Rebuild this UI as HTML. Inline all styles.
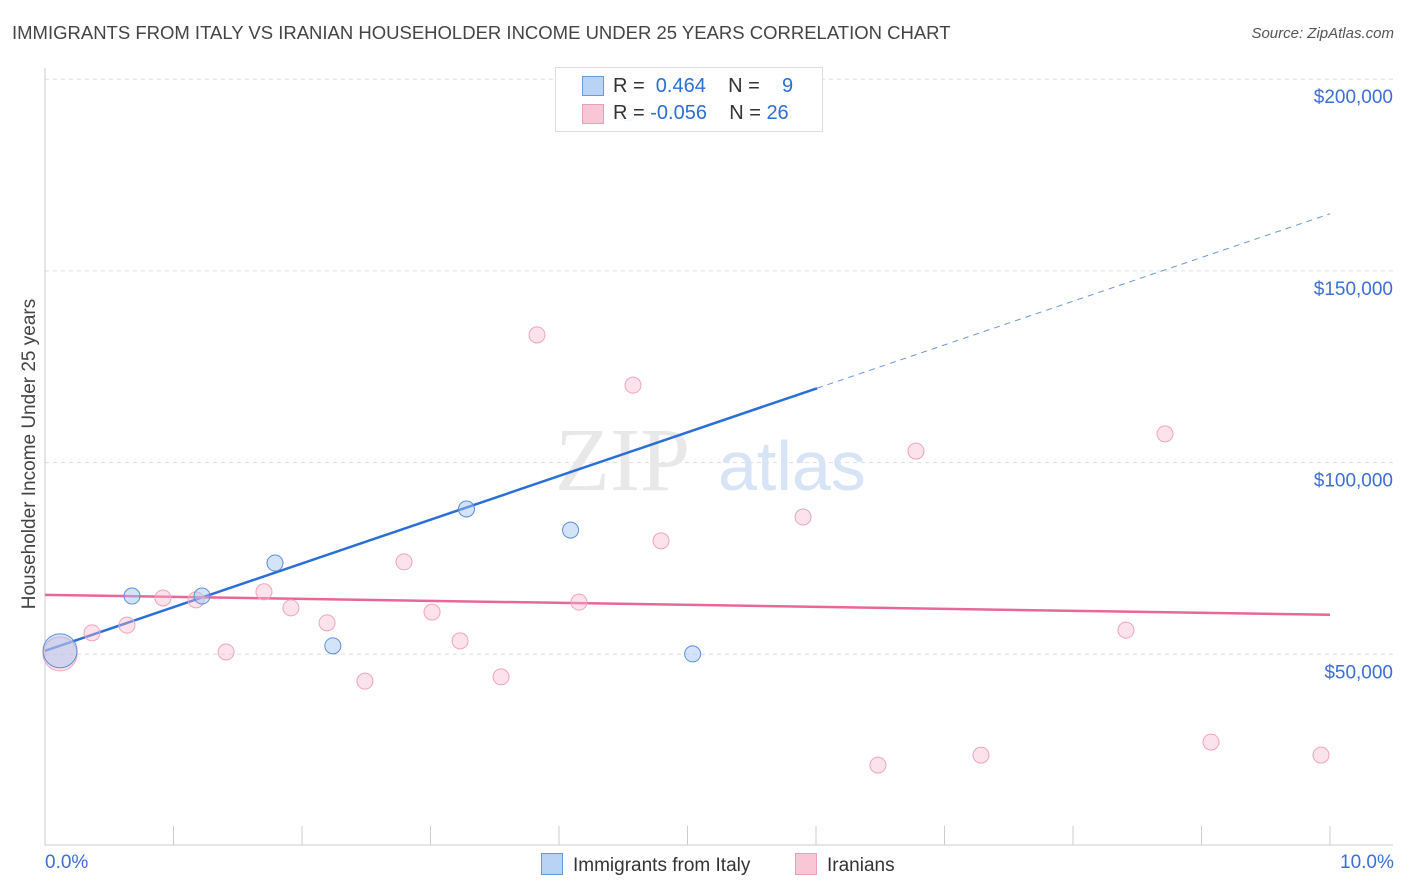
<!DOCTYPE html>
<html><head><meta charset="utf-8">
<style>
body{margin:0;background:#fff;font-family:"Liberation Sans",sans-serif;}
#wrap{position:relative;width:1406px;height:892px;overflow:hidden;}
.t{position:absolute;white-space:nowrap;}
</style></head>
<body>
<div id="wrap">
<div class="t" style="left:12px;top:22px;font-size:18.5px;color:#444;">IMMIGRANTS FROM ITALY VS IRANIAN HOUSEHOLDER INCOME UNDER 25 YEARS CORRELATION CHART</div>
<div class="t" style="right:12px;top:25px;font-size:15px;color:#555;font-style:italic;">Source: ZipAtlas.com</div>
<svg id="svg" width="1406" height="892" style="position:absolute;left:0;top:0"></svg>
</div>
<script>
const italyX=[0.117,0.677,1.222,1.79,2.24,3.28,4.09,5.04,4.53];
const italyY=[50900,65200,65200,73800,52200,87900,82400,50100,191200];
const iranX=[0.117,0.366,0.638,0.918,1.175,1.409,1.704,1.914,2.195,2.49,2.794,3.012,3.23,3.549,3.829,4.156,4.576,4.794,5.899,6.482,6.778,7.284,8.412,8.716,9.074,9.93];
const iranY=[50100,55600,57600,64700,64200,50600,66300,62100,58200,43000,74100,61000,53500,44100,133300,63600,120200,79600,85800,21100,103000,23700,56300,107500,27100,23700];
const yTicks=[50000,100000,150000,200000];
const yTickLabels=["$50,000","$100,000","$150,000","$200,000"];
const italyTrend=[50900,11400]; // intercept, slope per %
const iranTrend=[65500,-520];
const NS="http://www.w3.org/2000/svg";
const svg=document.getElementById('svg');
const xs=v=>45+v/10*1285;
const ys=v=>846-v/50000*191.7;
function mk(tag,attrs,name){const e=document.createElementNS(NS,tag);for(const k in attrs)e.setAttribute(k,attrs[k]);


svg.appendChild(e);return e;}
yTicks.forEach((v,i)=>{
 mk('line',{x1:45,x2:1393,y1:ys(v),y2:ys(v),stroke:'#ddd','stroke-dasharray':'4,4'},'y-gridline');
 const t=mk('text',{x:1393,y:ys(v)+24,'text-anchor':'end','font-size':19,fill:'#3b6fd4','font-family':'Liberation Sans'},'y-tick-label');t.textContent=yTickLabels[i];
});
mk('line',{x1:45,x2:45,y1:68,y2:846,stroke:'#ccc'},'y-axis');
mk('line',{x1:45,x2:1393,y1:845,y2:845,stroke:'#ccc'},'x-axis');
for(let i=0;i<=10;i++) mk('line',{x1:xs(i),x2:xs(i),y1:826,y2:845,stroke:'#ccc'},'x-tick');
let w=mk('text',{x:555,y:490,'font-size':90,fill:'#e8e8e8','font-family':'Liberation Serif'},'watermark-zip');w.textContent='ZIP';
w=mk('text',{x:718,y:490,'font-size':70,fill:'#d6e4f5','font-family':'Liberation Sans'},'watermark-atlas');w.textContent='atlas';
const bx=6.008;
mk('line',{x1:xs(0),y1:ys(italyTrend[0]),x2:xs(bx),y2:ys(italyTrend[0]+italyTrend[1]*bx),stroke:'#2a6fd6','stroke-width':2.5},'italy-trend-line');
mk('line',{x1:xs(bx),y1:ys(italyTrend[0]+italyTrend[1]*bx),x2:xs(10),y2:ys(italyTrend[0]+italyTrend[1]*10),stroke:'#6a98dc','stroke-width':1,'stroke-dasharray':'6,5'},'italy-trend-extension');
mk('line',{x1:xs(0),y1:ys(iranTrend[0]),x2:xs(10),y2:ys(iranTrend[0]+iranTrend[1]*10),stroke:'#e8679a','stroke-width':2.5},'iranians-trend-line');
iranX.forEach((x,i)=>mk('circle',{cx:xs(x),cy:ys(iranY[i]),r:i==0?17:8,fill:'rgba(248,182,204,0.4)',stroke:'#f2a3be','stroke-width':1},'iranians-point'));
italyX.forEach((x,i)=>mk('circle',{cx:xs(x),cy:ys(italyY[i]),r:i==0?17:8,fill:'rgba(160,196,240,0.45)',stroke:'#5b8fd8','stroke-width':1},'italy-point'));
</script>
<div class="t" style="left:-130px;top:443px;width:320px;text-align:center;transform:rotate(-90deg);font-size:19px;color:#444;">Householder Income Under 25 years</div>
<div class="t" style="left:45px;top:852px;font-size:19px;color:#3b6fd4;">0.0%</div>
<div class="t" style="left:1340px;top:852px;font-size:19px;color:#3b6fd4;">10.0%</div>
<div style="position:absolute;left:555px;top:67px;width:266px;height:63px;border:1px solid #ddd;background:rgba(255,255,255,0.9);font-size:20px;color:#333;">
 <div class="t" style="left:26px;top:8px;width:20px;height:18px;background:#b9d3f5;border:1px solid #6a98dc;"></div>
 <div class="t" style="left:57px;top:7px;">R = &nbsp;<span style="color:#2a6fd6">0.464</span>&nbsp;&nbsp;&nbsp; N = &nbsp;&nbsp;&nbsp;<span style="color:#2a6fd6">9</span></div>
 <div class="t" style="left:26px;top:36px;width:20px;height:18px;background:#f9c6d6;border:1px solid #e8a0b8;"></div>
 <div class="t" style="left:57px;top:34px;">R = <span style="color:#2a6fd6">-0.056</span>&nbsp;&nbsp;&nbsp; N = <span style="color:#2a6fd6">26</span></div>
</div>
<div class="t" style="left:541px;top:853px;font-size:19px;color:#333;"><span style="display:inline-block;width:20px;height:20px;background:#b9d3f5;border:1px solid #6a98dc;vertical-align:-4px;margin-right:10px;"></span>Immigrants from Italy</div>
<div class="t" style="left:795px;top:853px;font-size:19px;color:#333;"><span style="display:inline-block;width:20px;height:20px;background:#f9c6d6;border:1px solid #e8a0b8;vertical-align:-4px;margin-right:10px;"></span>Iranians</div>
</body></html>
